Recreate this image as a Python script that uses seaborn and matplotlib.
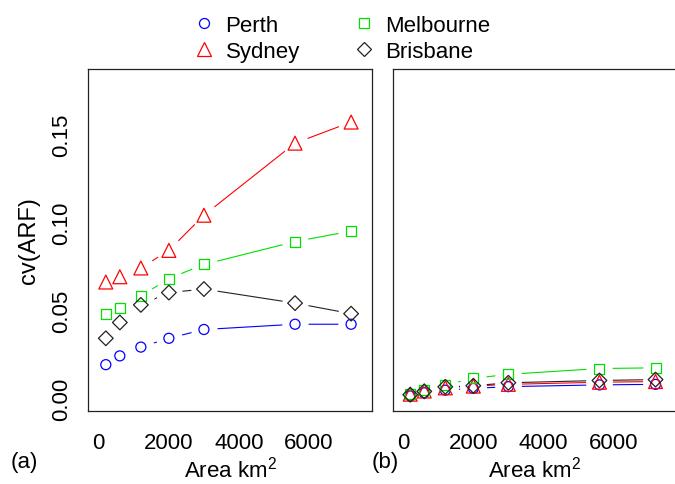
import numpy as np
import pandas as pd
import matplotlib
matplotlib.use('Agg')
import matplotlib.pyplot as plt
from matplotlib.lines import Line2D
import seaborn as sns

sns.set_style('white')
plt.rcParams['font.family'] = ['Liberation Sans', 'DejaVu Sans']
plt.rcParams['mathtext.default'] = 'regular'
plt.rcParams['text.color'] = 'black'
plt.rcParams['axes.labelcolor'] = 'black'

# ── data ───────────────────────────────────────────────────
areas = [200, 600, 1200, 2000, 3000, 5600, 7200]

perth_a  = [0.019, 0.024, 0.029, 0.034, 0.039, 0.042, 0.042]
sydney_a = [0.066, 0.069, 0.074, 0.084, 0.104, 0.145, 0.157]
melb_a   = [0.048, 0.051, 0.058, 0.068, 0.076, 0.089, 0.095]
bris_a   = [0.034, 0.043, 0.053, 0.060, 0.062, 0.054, 0.048]

perth_b  = [0.0012, 0.0030, 0.0045, 0.0055, 0.0065, 0.0075, 0.0078]
sydney_b = [0.0022, 0.0040, 0.0058, 0.0068, 0.0078, 0.0090, 0.0094]
melb_b   = [0.0022, 0.0045, 0.0075, 0.0112, 0.0135, 0.0168, 0.0172]
bris_b   = [0.0019, 0.0038, 0.0064, 0.0070, 0.0087, 0.0100, 0.0105]

cities = ['Perth', 'Sydney', 'Melbourne', 'Brisbane']
colors = {'Perth': '#0000FF', 'Sydney': '#FF0000', 'Melbourne': '#00E000', 'Brisbane': '#222222'}
markers = {'Perth': 'o', 'Sydney': '^', 'Melbourne': 's', 'Brisbane': 'D'}
msize = {'Perth': 52, 'Sydney': 100, 'Melbourne': 52, 'Brisbane': 56}

panels = {
    'a': dict(zip(cities, [perth_a, sydney_a, melb_a, bris_a])),
    'b': dict(zip(cities, [perth_b, sydney_b, melb_b, bris_b])),
}

fig = plt.figure(figsize=(6.75, 4.85), dpi=100)
ax_a = fig.add_axes([0.1308, 0.1511, 0.4205, 0.7046])
ax_b = fig.add_axes([0.5818, 0.1511, 0.4205, 0.7046])

for key, ax in [('a', ax_a), ('b', ax_b)]:
    df = pd.DataFrame(panels[key], index=areas).reset_index(names='area')
    long = df.melt(id_vars='area', var_name='city', value_name='cv')
    # lines first, then white masks (R type="b" gaps), then hollow symbols
    for c in cities:
        d = long[long.city == c]
        sns.lineplot(data=d, x='area', y='cv', color=colors[c], lw=0.8, ax=ax,
                     estimator=None, sort=False)
    for c in cities:
        d = long[long.city == c]
        sns.scatterplot(data=d, x='area', y='cv', marker='o', s=360, color='white',
                        linewidth=0, ax=ax, zorder=3)
    for c in cities:
        d = long[long.city == c]
        sns.scatterplot(data=d, x='area', y='cv', marker=markers[c], s=msize[c],
                        facecolor='none', edgecolor=colors[c], linewidth=0.9,
                        ax=ax, zorder=4)

    ax.set_xlim(-300, 7800)
    ax.set_ylim(-0.0072, 0.1872)
    ax.set_xticks([0, 2000, 4000, 6000])
    ax.tick_params(axis='both', direction='out', length=9.5, width=0.8,
                   labelsize=16, pad=6, colors='#222222', labelcolor='black')
    for sp in ax.spines.values():
        sp.set_visible(True)
        sp.set_color('#222222')
        sp.set_linewidth(0.9)
    ax.set_xlabel('Area km$^{2}$', fontsize=16, labelpad=2)
    ax.set_ylabel('')

ax_a.set_yticks([0.00, 0.05, 0.10, 0.15])
ax_a.set_yticklabels(['0.00', '0.05', '0.10', '0.15'], rotation=90, va='center')
ax_a.tick_params(axis='y', pad=2)
ax_a.set_ylabel('cv(ARF)', fontsize=17, labelpad=8)
ax_b.set_yticks([])

fig.text(0.015, 0.035, '(a)', fontsize=16)
fig.text(0.551, 0.035, '(b)', fontsize=16)

handles = [Line2D([], [], ls='none', marker=markers[c], markersize=np.sqrt(msize[c]),
                  markerfacecolor='none', markeredgecolor=colors[c], markeredgewidth=0.9)
           for c in cities]
fig.legend(handles, cities, ncol=2, loc='upper left', bbox_to_anchor=(0.26, 1.008),
           frameon=False, fontsize=16, handlelength=0.8, handletextpad=0.55,
           columnspacing=2.5, labelspacing=0.22)

fig.savefig('out.png', dpi=100)
